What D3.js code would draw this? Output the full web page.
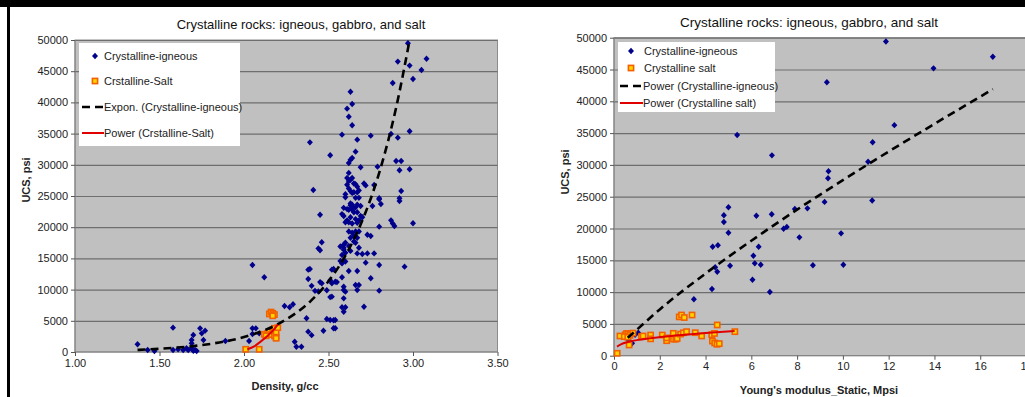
<!DOCTYPE html>
<html>
<head>
<meta charset="utf-8">
<script src="https://cdn.jsdelivr.net/npm/d3@7"></script>
<style>
  body { margin: 0; background: #fff; }
  svg { display: block; font-family: "Liberation Sans", Arial, sans-serif; }
  .tick text { font-size: 11px; fill: #222; }
  .tick line { stroke: #555; }
  .domain { stroke: #808080; }
  .grid .tick line { stroke: #6e6e6e; stroke-width: 1.2; }
  .grid .domain { display: none; }
</style>
</head>
<body>
<div class="board"></div>
<script>
// ---- data ----
var titleText = 'Crystalline rocks: igneous, gabbro, and salt';
var ucsTicks = [0, 5000, 10000, 15000, 20000, 25000, 30000, 35000, 40000, 45000, 50000];
var densityTicks = [1.0, 1.5, 2.0, 2.5, 3.0, 3.5];
var modulusTicks = [0, 2, 4, 6, 8, 10, 12, 14, 16, 18];

// left chart: density g/cc vs UCS psi
var densityIgneous = [
  [1.37,1230],[1.43,320],[1.47,160],[1.58,3900],[1.58,320],[1.61,430],[1.64,320],[1.66,590],[1.67,320],
  [1.69,590],[1.70,210],[1.71,320],[1.72,160],[1.69,1920],[1.69,1390],[1.70,2720],[1.74,3790],[1.75,2990],
  [1.77,3420],[1.76,1920],[1.89,1760],[2.03,1760],[2.05,3790],[2.07,3790],[2.05,2880],[2.09,2990],
  [2.05,13950],[2.12,11970],[2.24,7370],[2.27,7170],[2.29,7650],[2.30,1650],[2.31,850],[2.34,850],
  [2.37,5400],[2.38,3260],[2.40,2700],[2.38,11700],[2.40,10600],[2.38,13200],[2.39,13300],[2.42,9800],
  [2.44,9700],[2.45,11200],[2.46,11000],[2.45,16300],[2.44,16600],[2.46,17600],[2.45,22000],[2.47,3400],
  [2.49,9900],[2.51,8800],[2.52,13200],[2.52,11000],[2.55,11200],[2.49,5300],[2.53,3800],[2.53,5100],
  [2.39,33600],[2.41,25970],[2.51,31530],
  [2.58,34830],[2.63,41700],[2.64,39750],[2.61,39000],[2.62,37700],[2.64,36330],[2.67,34030],[2.75,34670],
  [2.87,34950],[2.91,34350],[2.98,35380],[2.66,32110],[2.62,30300],[2.63,30800],[2.64,31100],[2.90,30600],
  [2.93,30600],[2.92,29120],[2.98,29280],[2.69,29600],[2.79,29700],
  [2.62,28700],[2.63,27600],[2.61,27900],[2.61,26800],[2.62,27400],[2.64,27900],[2.65,27000],[2.66,26900],
  [2.71,27000],[2.72,26700],[2.67,26500],[2.62,26200],[2.63,25800],[2.64,25500],[2.77,26770],[2.93,25810],
  [2.80,24640],[2.92,24640],[2.60,24800],[2.66,24700],[2.68,24700],
  [2.91,46540],[2.98,45900],[3.08,47000],[3.05,45200],[3.00,43760],[2.88,43100],[2.97,49480],
  [2.60,25300],[2.65,25600],[2.67,25600],[2.68,25900],[2.80,24480],[2.81,23720],[2.92,24200],[2.63,23800],
  [2.64,23600],[2.67,23600],[2.69,23400],[2.59,23100],[2.61,22900],[2.62,22800],[2.64,22800],[2.63,23500],
  [2.64,23200],[2.66,23200],[2.65,22400],[2.67,22400],[2.76,23400],[2.58,22100],[2.59,21800],[2.63,21600],
  [2.69,21800],[2.70,21600],[2.62,20800],[2.64,20600],[2.60,20800],[2.61,21100],[2.66,21300],[2.68,21100],
  [2.67,20700],[2.87,21100],[2.88,20600],[2.89,20200],[3.00,20630],[2.80,20090],
  [2.62,19300],[2.64,19100],[2.66,19300],[2.68,19300],[2.65,18600],[2.63,18300],[2.67,18300],[2.73,18800],
  [2.75,18600],[2.59,17200],[2.60,17500],[2.57,16900],[2.59,16700],[2.62,17000],[2.65,17700],[2.66,17500],
  [2.68,16700],[2.63,16200],[2.60,15900],[2.59,16400],[2.67,15800],[2.70,15700],[2.73,15800],[2.77,15800],
  [2.58,15550],[2.57,14600],[2.60,14500],[2.58,14200],[2.53,13300],[2.51,11500],[2.62,12980],[2.67,12980],
  [2.72,14320],[2.80,13950],[2.95,13680],[2.58,11970],[2.54,11270],[2.52,8870],[2.59,10470],[2.59,9940],
  [2.60,9670],[2.66,10740],[2.68,10740],[2.67,9940],[2.75,11810],[2.80,9830],[2.59,8600],[2.71,7260],
  [2.58,7170],[2.60,7170],[2.59,6460],[2.54,5130],[2.54,3800],[2.51,5130]
];
var densitySalt = [
  [2.01,430],[2.09,430],[2.12,2840],[2.14,3000],[2.15,3300],[2.16,2800],[2.17,3500],[2.18,2600],[2.18,3800],
  [2.19,2400],[2.19,3200],[2.20,3900],[2.19,2200],[2.15,6100],[2.16,6400],[2.17,6200],[2.18,6000],[2.17,5800],
  [2.13,2600]
];
var densityExponTrend = [
  [1.37,340],[1.6,700],[1.8,1290],[2.0,2410],[2.2,4470],[2.4,8310],[2.5,11330],[2.6,15450],[2.7,21060],
  [2.8,28710],[2.9,39150],[2.98,50000]
];
var densitySaltTrend = [[2.02,430],[2.06,900],[2.10,1700],[2.14,2600],[2.18,3700],[2.20,4400]];

// right chart: Young's modulus static, Mpsi vs UCS psi
var modulusIgneous = [
  [5.38,34700],[6.90,31500],[9.30,43000],[9.37,29000],[9.35,27900],[11.88,49400],[11.30,33550],[11.10,30500],
  [12.25,36250],[13.96,45180],[16.55,47000],[11.28,24400],[5.00,23330],[4.80,22080],[4.80,21020],[5.00,19340],
  [4.31,17140],[4.54,17360],[4.42,13900],[4.51,13210],[5.07,14150],[4.28,10490],[3.49,8870],[6.22,22000],
  [6.89,22250],[6.09,15720],[6.15,14520],[6.41,14300],[6.32,17140],[6.05,11950],[6.81,10020],[7.41,19950],
  [7.55,20250],[7.90,23060],[8.45,23170],[8.10,18610],[8.69,14210],[9.20,24180],[9.92,19240],[10.02,14310],
  [0.64,2470],[0.60,2700],[1.06,3620],[0.79,1950],[0.92,3300]
];
var modulusSalt = [
  [0.14,380],[0.26,3100],[0.50,3300],[0.55,3500],[0.62,3400],[0.70,3200],[0.66,1680],[0.83,3550],[1.20,3000],
  [1.27,3100],[1.60,3250],[1.60,2650],[2.11,3250],[2.30,2360],[2.30,2800],[2.59,3520],[2.60,2600],[2.70,2600],
  [2.76,2700],[2.91,3400],[3.03,3600],[3.17,3780],[2.85,6100],[2.95,6400],[3.07,6000],[3.41,6400],[3.55,3620],
  [3.83,3100],[4.27,3300],[4.39,3500],[4.51,4830],[4.30,2300],[4.40,2000],[4.50,1800],[4.60,1900],[5.28,3780],
  [0.45,3000],[0.60,2900]
];
var modulusPowerTrend = [
  [0.6,2830],[1,4100],[2,7280],[4,12920],[6,18080],[8,22970],[10,27600],[12,32100],[14,36450],[16.55,41900]
];
var modulusSaltTrend = [
  [0.13,1420],[0.3,1780],[0.6,2150],[1,2450],[1.5,2720],[2,2930],[3,3270],[4,3560],[5.27,3880]
];

var svg = d3.select('.board').append('svg').attr('width', 1025).attr('height', 397);

// black frame bits of the scanned page
svg.append('rect').attr('x', 0).attr('y', 0).attr('width', 1025).attr('height', 7).attr('fill', '#000');
svg.append('rect').attr('x', 7).attr('y', 0).attr('width', 3).attr('height', 397).attr('fill', '#000');

var diamond = 'M0,-3.2L3,0L0,3.2L-3,0Z';

function drawMarkers(g, data, x, y, kind) {
  if (kind === 'igneous') {
    g.selectAll(null).data(data).enter().append('path')
      .attr('d', diamond)
      .attr('transform', function(d) { return 'translate(' + x(d[0]) + ',' + y(d[1]) + ')'; })
      .attr('fill', '#00008c');
  } else {
    g.selectAll(null).data(data).enter().append('rect')
      .attr('x', function(d) { return x(d[0]) - 2.6; })
      .attr('y', function(d) { return y(d[1]) - 2.6; })
      .attr('width', 5.2).attr('height', 5.2)
      .attr('fill', '#ffd400')
      .attr('stroke', '#f26000')
      .attr('stroke-width', 1.6);
  }
}

function drawChart(cfg) {
  var x = d3.scaleLinear().domain(cfg.xDomain).range(cfg.xRange);
  var y = d3.scaleLinear().domain([0, 50000]).range(cfg.yRange);
  var left = cfg.xRange[0], right = cfg.xRange[1], top = cfg.yRange[1], bottom = cfg.yRange[0];

  svg.append('rect')
    .attr('x', left).attr('y', top)
    .attr('width', right - left).attr('height', bottom - top)
    .attr('fill', '#c0c0c0').attr('stroke', '#8c8c8c');

  svg.append('g').attr('class', 'grid')
    .attr('transform', 'translate(' + left + ',0)')
    .call(d3.axisLeft(y).tickValues(ucsTicks.slice(1)).tickSize(-(right - left)).tickFormat(''));

  svg.append('g')
    .attr('transform', 'translate(' + left + ',0)')
    .call(d3.axisLeft(y).tickValues(ucsTicks).tickSize(4).tickPadding(3).tickFormat(d3.format('d')))
    .call(function(g) { g.select('.domain').attr('d', 'M0,' + bottom + 'V' + top); });

  svg.append('g')
    .attr('transform', 'translate(0,' + bottom + ')')
    .call(d3.axisBottom(x).tickValues(cfg.xTicks).tickSize(4).tickPadding(3).tickFormat(cfg.xFormat))
    .call(function(g) { g.select('.domain').attr('d', 'M' + left + ',0H' + right); });

  var plot = svg.append('g');
  var line = d3.line().x(function(d) { return x(d[0]); }).y(function(d) { return y(d[1]); })
    .curve(d3.curveMonotoneX);

  drawMarkers(plot, cfg.igneous, x, y, 'igneous');
  drawMarkers(plot, cfg.salt, x, y, 'salt');

  plot.append('path').datum(cfg.igneousTrend)
    .attr('d', line).attr('fill', 'none')
    .attr('stroke', '#000').attr('stroke-width', 2.6).attr('stroke-dasharray', '8,5');
  plot.append('path').datum(cfg.saltTrend)
    .attr('d', line).attr('fill', 'none')
    .attr('stroke', '#e00000').attr('stroke-width', 2);

  // title and axis titles
  svg.append('text').attr('x', cfg.titleX).attr('y', cfg.titleY)
    .attr('text-anchor', 'middle').attr('font-size', cfg.titleSize).attr('fill', '#111')
    .text(titleText);
  svg.append('text').attr('x', cfg.xLabelX).attr('y', cfg.xLabelY)
    .attr('text-anchor', 'middle').attr('font-size', 11).attr('font-weight', 'bold').attr('fill', '#222')
    .text(cfg.xLabel);
  svg.append('text')
    .attr('transform', 'translate(' + cfg.yLabelX + ',' + cfg.yLabelY + ') rotate(-90)')
    .attr('text-anchor', 'middle').attr('font-size', 11).attr('font-weight', 'bold').attr('fill', '#222')
    .text('UCS, psi');

  // legend
  var L = cfg.legend;
  var lg = svg.append('g');
  lg.append('rect').attr('x', L.x).attr('y', L.y).attr('width', L.w).attr('height', L.h).attr('fill', '#fff');
  L.labels.forEach(function(label, i) {
    var ly = L.rows[i];
    if (i === 0) {
      lg.append('path').attr('d', diamond).attr('transform', 'translate(' + L.markX + ',' + ly + ')').attr('fill', '#00008c');
    } else if (i === 1) {
      lg.append('rect').attr('x', L.markX - 2.6).attr('y', ly - 2.6).attr('width', 5.2).attr('height', 5.2)
        .attr('fill', '#ffd400').attr('stroke', '#f26000').attr('stroke-width', 1.6);
    } else {
      lg.append('line').attr('x1', L.lineX0).attr('x2', L.lineX1).attr('y1', ly).attr('y2', ly)
        .attr('stroke', i === 2 ? '#000' : '#e00000')
        .attr('stroke-width', i === 2 ? 2.6 : 2)
        .attr('stroke-dasharray', i === 2 ? '8,5' : null);
    }
    lg.append('text').attr('x', i < 2 ? L.textX : L.lineX1).attr('y', ly + 4)
      .attr('font-size', 11).attr('fill', '#222').text(label);
  });
}

drawChart({
  xDomain: [1, 3.5], xRange: [75, 497.5], yRange: [352, 40],
  xTicks: densityTicks, xFormat: d3.format('.2f'),
  igneous: densityIgneous, salt: densitySalt,
  igneousTrend: densityExponTrend, saltTrend: densitySaltTrend,
  titleX: 301, titleY: 29, titleSize: 13,
  xLabel: 'Density, g/cc', xLabelX: 285, xLabelY: 390,
  yLabelX: 30, yLabelY: 180,
  legend: {
    x: 79, y: 43, w: 161, h: 103, rows: [56, 81, 107, 133],
    markX: 95, textX: 104, lineX0: 82, lineX1: 104,
    labels: ['Crystalline-igneous', 'Crstalline-Salt', 'Expon. (Crystalline-igneous)', 'Power (Crstalline-Salt)']
  }
});

drawChart({
  xDomain: [0, 18], xRange: [614, 1026], yRange: [355.7, 37.7],
  xTicks: modulusTicks, xFormat: d3.format('d'),
  igneous: modulusIgneous, salt: modulusSalt,
  igneousTrend: modulusPowerTrend, saltTrend: modulusSaltTrend,
  titleX: 809, titleY: 27, titleSize: 13.5,
  xLabel: "Young's modulus_Static, Mpsi", xLabelX: 819, xLabelY: 394,
  yLabelX: 569, yLabelY: 172,
  legend: {
    x: 618, y: 42, w: 157, h: 70, rows: [51, 68, 86, 103],
    markX: 631, textX: 644, lineX0: 620, lineX1: 643,
    labels: ['Crystalline-igneous', 'Crystalline salt', 'Power (Crystalline-igneous)', 'Power (Crystalline salt)']
  }
});
</script>
</body>
</html>
